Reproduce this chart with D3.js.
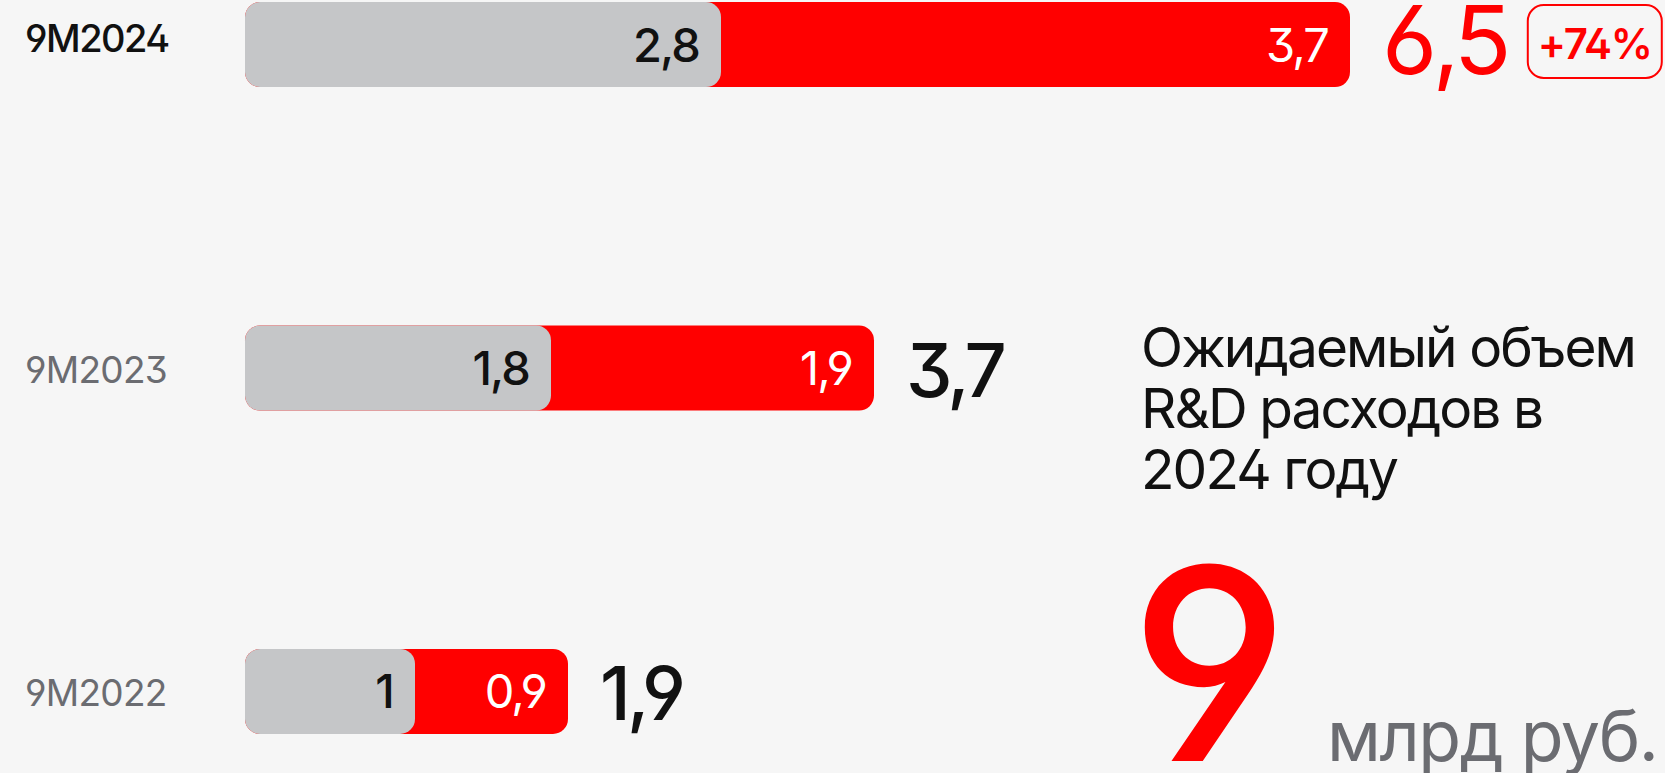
<!DOCTYPE html>
<html>
<head>
<meta charset="utf-8">
<script src="https://cdn.jsdelivr.net/npm/d3@7"></script>
<style>
  html, body { margin: 0; padding: 0; background: #f6f6f6; }
  svg { display: block; font-family: Inter, "Noto Sans", sans-serif; font-feature-settings: "cv03", "cv04", "ss01"; }
</style>
</head>
<body>
<svg id="chart" width="1665" height="773"></svg>
<script>
(function() {
    // R&D expenses, bln rub
    const periods = ["9M2024", "9M2023", "9M2022"];
    const baseValues = [2.8, 1.8, 1];
    const growthValues = [3.7, 1.9, 0.9];
    const totals = [6.5, 3.7, 1.9];
    const growthLabel = "+74%";

    const forecastTitle = ["Ожидаемый объем", "R&D расходов в", "2024 году"];
    const forecastValue = 9;
    const forecastUnit = "млрд руб.";

    const RED = "#ff0000";
    const GREY_BAR = "#c5c6c8";
    const GREY_TEXT = "#6b6c71";
    const INK = "#111111";

    const svg = d3.select("#chart");
    const fmt = v => String(v).replace(".", ",");

    const rows = periods.map((p, i) => ({
        period: p,
        base: baseValues[i],
        growth: growthValues[i],
        total: totals[i],
        current: i === 0
    }));

    const x = d3.scaleLinear()
        .domain([0, d3.max(totals)])
        .range([245, 1350]);

    const y = d3.scaleBand()
        .domain(periods)
        .range([2, 734])
        .paddingInner(0.737);

    const bh = y.bandwidth();

    const row = svg.append("g")
        .selectAll("g")
        .data(rows)
        .join("g")
        .attr("transform", d => `translate(0,${y(d.period)})`);

    // period labels
    row.append("text")
        .attr("x", 25)
        .attr("y", d => d.current ? bh / 2 + 7 : bh / 2 + 15)
        .attr("font-size", d => d.current ? 38 : 37)
        .attr("font-weight", d => d.current ? 500 : 400)
        .attr("fill", d => d.current ? INK : GREY_TEXT)
        .attr("letter-spacing", d => d.current ? "-0.04em" : "-0.02em")
        .text(d => d.period);

    // red (full stack) underneath, grey base on top
    row.append("rect")
        .attr("x", x(0))
        .attr("y", 0)
        .attr("width", d => x(d.total) - x(0))
        .attr("height", bh)
        .attr("rx", 15)
        .attr("fill", RED);

    row.append("rect")
        .attr("x", x(0))
        .attr("y", 0)
        .attr("width", d => x(d.base) - x(0))
        .attr("height", bh)
        .attr("rx", 15)
        .attr("fill", GREY_BAR);

    // values inside the bars
    row.append("text")
        .attr("x", d => x(d.base) - 22)
        .attr("y", bh / 2 + 17)
        .attr("text-anchor", "end")
        .attr("font-size", 47)
        .attr("font-weight", 500)
        .attr("letter-spacing", "-0.04em")
        .attr("fill", INK)
        .text(d => fmt(d.base));

    row.append("text")
        .attr("x", d => x(d.total) - 22)
        .attr("y", bh / 2 + 17)
        .attr("text-anchor", "end")
        .attr("font-size", 47)
        .attr("letter-spacing", "-0.04em")
        .attr("fill", "#ffffff")
        .text(d => fmt(d.growth));

    // totals
    const totalText = row.append("text")
        .attr("x", d => x(d.total) + 32)
        .attr("y", bh / 2 + 29)
        .attr("font-size", d => d.current ? 95 : 74)
        .attr("font-weight", d => d.current ? 400 : 500)
        .attr("letter-spacing", "-0.05em")
        .attr("fill", d => d.current ? RED : INK)
        .text(d => fmt(d.total));

    // growth badge next to current total
    totalText.filter(d => d.current).each(function(d) {
        const endX = x(d.total) + 32 + this.getComputedTextLength();
        const g = d3.select(this.parentNode).append("g")
            .attr("transform", `translate(${endX + 20},${2})`);
        g.append("rect")
            .attr("x", 1)
            .attr("y", 1)
            .attr("width", 134)
            .attr("height", 73)
            .attr("rx", 16)
            .attr("fill", "none")
            .attr("stroke", RED)
            .attr("stroke-width", 2);
        g.append("text")
            .attr("x", 68)
            .attr("y", 55)
            .attr("text-anchor", "middle")
            .attr("font-size", 42)
            .attr("font-weight", 600)
            .attr("letter-spacing", "-0.03em")
            .attr("fill", RED)
            .text(growthLabel);
    });

    // forecast block
    svg.append("g")
        .selectAll("text")
        .data(forecastTitle)
        .join("text")
        .attr("x", 1141)
        .attr("y", (d, i) => 367 + i * 61)
        .attr("font-size", 55)
        .attr("letter-spacing", "-0.035em")
        .attr("fill", INK)
        .text(d => d);

    svg.append("text")
        .attr("x", 1130)
        .attr("y", 761)
        .attr("font-size", 268)
        .attr("font-weight", 500)
        .attr("fill", RED)
        .text(forecastValue);

    svg.append("text")
        .attr("x", 1327)
        .attr("y", 761)
        .attr("font-size", 70)
        .attr("letter-spacing", "-0.02em")
        .attr("fill", GREY_TEXT)
        .text(forecastUnit);
})();
</script>
</body>
</html>
